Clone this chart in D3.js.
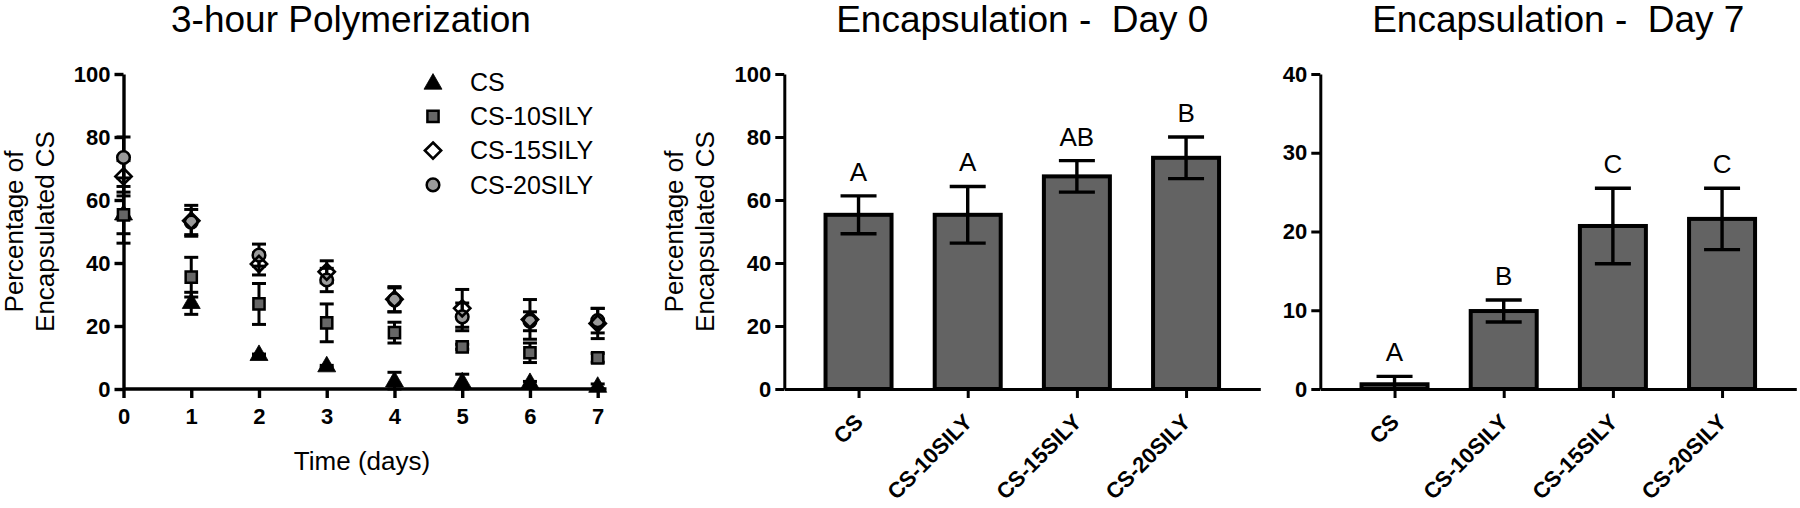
<!DOCTYPE html>
<html><head><meta charset="utf-8">
<script src="https://cdn.jsdelivr.net/npm/d3@7"></script>
<style>
html,body{margin:0;padding:0;background:#fff;}
svg{display:block;font-family:"Liberation Sans",Arial,sans-serif;}
svg text{white-space:pre;}
</style></head>
<body><svg id="c" width="1800" height="508"></svg>
<script>
// ---------- data ----------
const days = [0, 1, 2, 3, 4, 5, 6, 7];
const seriesNames = ["CS", "CS-10SILY", "CS-15SILY", "CS-20SILY"];
const csMean    = [55.3, 27.2, 10.7, 7.1, 2.3, 2.0, 1.8, 0.6];
const csSD      = [6.0, 3.5, 0.4, 0.4, 3.0, 2.7, 0.6, 1.0];
const cs10Mean  = [55.3, 35.5, 27.0, 21.0, 17.9, 13.4, 11.5, 9.9];
const cs10SD    = [9.0, 6.3, 6.5, 6.0, 3.3, 0.8, 3.1, 1.4];
const cs15Mean  = [67.5, 53.4, 39.7, 37.2, 28.5, 25.6, 22.1, 20.8];
const cs15SD    = [5.0, 4.9, 3.5, 3.5, 4.0, 6.0, 6.3, 4.8];
const cs20Mean  = [73.5, 53.0, 42.5, 34.6, 28.3, 22.9, 21.5, 21.7];
const cs20SD    = [6.5, 4.0, 3.5, 3.7, 3.8, 4.4, 3.0, 3.9];

const day0Mean   = [55.3, 55.3, 67.5, 73.4];
const day0SD     = [6.0, 9.0, 5.0, 6.6];
const day0Letter = ["A", "A", "AB", "B"];
const day7Mean   = [0.6, 9.9, 20.7, 21.6];
const day7SD     = [1.0, 1.4, 4.8, 3.9];
const day7Letter = ["A", "B", "C", "C"];

const yTicks100 = [0, 20, 40, 60, 80, 100];
const yTicks40  = [0, 10, 20, 30, 40];
const titles = ["3-hour Polymerization", "Encapsulation -  Day 0", "Encapsulation -  Day 7"];
const yLabelLines = ["Percentage of", "Encapsulated CS"];
const xLabel = "Time (days)";

// ---------- layout ----------
const svg = d3.select("#c");
const FONT = '"Liberation Sans",Arial,sans-serif';
const yTop = 74, yBot = 389;

const diamondType = {
  draw(ctx, size) { const r = Math.sqrt(size / 2); ctx.moveTo(0, -r); ctx.lineTo(r, 0); ctx.lineTo(0, r); ctx.lineTo(-r, 0); ctx.closePath(); }
};
const markerStyle = [
  {type: d3.symbolTriangle, size: 140, fill: "#000", stroke: "#000", sw: 0.8},
  {type: d3.symbolSquare, size: 125, fill: "#666", stroke: "#000", sw: 2.5},
  {type: diamondType, size: 130, fill: "none", stroke: "#000", sw: 2.7},
  {type: d3.symbolCircle, size: 125, fill: "#9a9a9a", stroke: "#000", sw: 2.5}
];

function styleAxis(g, sw) {
  g.select(".domain").attr("stroke", "#000").attr("stroke-width", sw);
  g.selectAll(".tick line").attr("stroke", "#000").attr("stroke-width", sw);
  g.selectAll(".tick text").attr("fill", "#000").attr("font-size", 22).attr("font-weight", "bold").attr("font-family", FONT);
}
function yLabel(axisX) {
  const t = svg.append("text").attr("font-size", 26).attr("font-family", FONT).attr("fill", "#000")
    .attr("text-anchor", "middle")
    .attr("transform", `translate(${axisX - 101},${(yTop + yBot) / 2}) rotate(-90)`);
  t.append("tspan").attr("x", 0).attr("y", 0).text(yLabelLines[0]);
  t.append("tspan").attr("x", 0).attr("y", 31).text(yLabelLines[1]);
}
function title(txt, cx) {
  svg.append("text").attr("x", cx).attr("y", 32).attr("text-anchor", "middle")
    .attr("font-size", 37).attr("font-family", FONT).attr("fill", "#000").text(txt);
}

// ---------- panel 1: scatter ----------
{
  const x0 = 123.5;
  const x = d3.scaleLinear().domain([0, 7]).range([x0, 597.7]);
  const xEnd = x(7.13);
  const y = d3.scaleLinear().domain([0, 100]).range([yBot, yTop]);

  const gx = svg.append("g").attr("transform", `translate(0,${yBot})`)
    .call(d3.axisBottom(x).tickValues(days).tickSize(9).tickSizeOuter(0).tickPadding(10).tickFormat(d3.format("d")));
  gx.select(".domain").attr("d", `M${x0},0H${xEnd}`);
  styleAxis(gx, 3.4);
  const gy = svg.append("g").attr("transform", `translate(${x0},0)`)
    .call(d3.axisLeft(y).tickValues(yTicks100).tickSize(9).tickSizeOuter(0).tickPadding(4));
  styleAxis(gy, 3.4);

  yLabel(x0);
  title(titles[0], 351);
  svg.append("text").attr("x", 362).attr("y", 470).attr("text-anchor", "middle")
    .attr("font-size", 26).attr("font-family", FONT).text(xLabel);

  const means = [csMean, cs10Mean, cs15Mean, cs20Mean];
  const sds = [csSD, cs10SD, cs15SD, cs20SD];
  const eg = svg.append("g").attr("stroke", "#000").attr("stroke-width", 3);
  means.forEach((m, s) => {
    days.forEach((d, i) => {
      const cx = x(d), yh = y(m[i] + sds[s][i]), yl = y(Math.max(0, m[i] - sds[s][i]));
      eg.append("line").attr("x1", cx).attr("x2", cx).attr("y1", yh).attr("y2", yl);
      eg.append("line").attr("x1", cx - 7).attr("x2", cx + 7).attr("y1", yh).attr("y2", yh);
      eg.append("line").attr("x1", cx - 7).attr("x2", cx + 7).attr("y1", yl).attr("y2", yl);
    });
  });
  [3, 2, 0, 1].forEach(s => {
    const st = markerStyle[s];
    svg.append("g").selectAll("path").data(days).join("path")
      .attr("transform", (d, i) => `translate(${x(d)},${y(means[s][i])})`)
      .attr("d", d3.symbol().type(st.type).size(st.size))
      .attr("fill", st.fill).attr("stroke", st.stroke).attr("stroke-width", st.sw);
  });

  // legend
  const lg = svg.append("g");
  seriesNames.forEach((n, i) => {
    const st = markerStyle[i];
    const cy = 82 + i * 34.3;
    lg.append("path").attr("transform", `translate(433,${cy + (i === 0 ? 2 : 0)})`)
      .attr("d", d3.symbol().type(st.type).size(st.size))
      .attr("fill", st.fill).attr("stroke", st.stroke).attr("stroke-width", st.sw);
    lg.append("text").attr("x", 470).attr("y", cy).attr("dy", "0.35em")
      .attr("font-size", 25).attr("font-family", FONT).text(n);
  });
}

// ---------- bar panels ----------
function barPanel(axisX, maxV, ticks, means, sds, letters, ttl, withYLabel) {
  const xs = d3.scalePoint().domain(seriesNames).range([axisX, axisX + 476]).padding(0.68);
  const y = d3.scaleLinear().domain([0, maxV]).range([yBot, yTop]);
  const bw = 66;
  const g = svg.append("g");
  g.selectAll("rect").data(seriesNames).join("rect")
    .attr("x", d => xs(d) - bw / 2).attr("width", bw)
    .attr("y", (d, i) => y(means[i])).attr("height", (d, i) => yBot - y(means[i]))
    .attr("fill", "#636363").attr("stroke", "#000").attr("stroke-width", 4);
  const eg = svg.append("g").attr("stroke", "#000").attr("stroke-width", 3.4);
  seriesNames.forEach((d, i) => {
    const cx = xs(d), yh = y(means[i] + sds[i]), yl = y(Math.max(0, means[i] - sds[i]));
    eg.append("line").attr("x1", cx).attr("x2", cx).attr("y1", yh).attr("y2", yl);
    eg.append("line").attr("x1", cx - 18).attr("x2", cx + 18).attr("y1", yh).attr("y2", yh);
    if (means[i] - sds[i] > 0)
      eg.append("line").attr("x1", cx - 18).attr("x2", cx + 18).attr("y1", yl).attr("y2", yl);
    svg.append("text").attr("x", cx).attr("y", yh - 15).attr("text-anchor", "middle")
      .attr("font-size", 26).attr("font-family", FONT).text(letters[i]);
  });
  const gx = svg.append("g").attr("transform", `translate(0,${yBot})`)
    .call(d3.axisBottom(xs).tickSize(9).tickSizeOuter(0));
  styleAxis(gx, 3);
  gx.selectAll(".tick text").attr("y", 0).attr("dy", "0.35em").attr("text-anchor", "end")
    .attr("transform", "translate(0,29) rotate(-45)");
  const gy = svg.append("g").attr("transform", `translate(${axisX},0)`)
    .call(d3.axisLeft(y).tickValues(ticks).tickSize(9).tickSizeOuter(0).tickPadding(4));
  styleAxis(gy, 3);
  if (withYLabel) yLabel(axisX);
  title(ttl, axisX + 238);
}
barPanel(784.3, 100, yTicks100, day0Mean, day0SD, day0Letter, titles[1], true);
barPanel(1320.3, 40, yTicks40, day7Mean, day7SD, day7Letter, titles[2], false);
</script></body></html>
